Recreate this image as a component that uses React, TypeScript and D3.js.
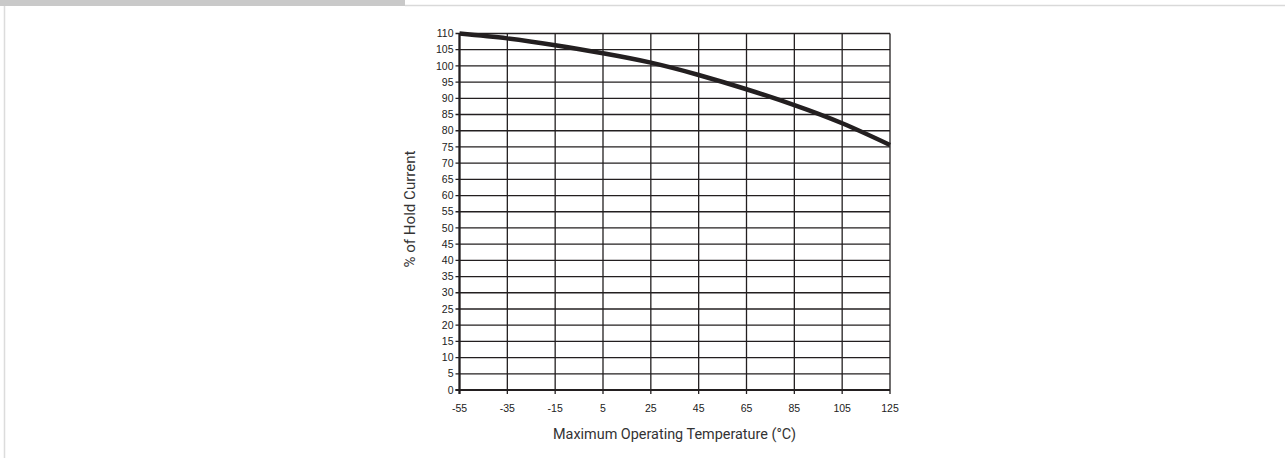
import React from 'react';
import * as d3 from 'd3';

// derating curve
const temps = [-55, -35, -15, 5, 25, 45, 65, 85, 105, 125];
const holdPct = [110, 108.5, 106.4, 103.9, 101, 97.2, 92.8, 87.9, 82.3, 75.6];

const xTicks = [-55, -35, -15, 5, 25, 45, 65, 85, 105, 125];
const yTicks = d3.range(0, 111, 5);

const xTitle = 'Maximum Operating Temperature (\u00B0C)';
const yTitle = '% of Hold Current';

const W = 1285;
const H = 458;
const plot = { left: 459.5, right: 890, top: 33.5, bottom: 390 };

const titleFont = "Roboto, 'Liberation Sans', sans-serif";
const sans = "'Liberation Sans', Arial, sans-serif";

export default function App() {
  const x = d3.scaleLinear().domain([-55, 125]).range([plot.left, plot.right]);
  const y = d3.scaleLinear().domain([0, 110]).range([plot.bottom, plot.top]);

  const points: [number, number][] = temps.map((t, i) => [t, holdPct[i]]);
  const line = d3.line<[number, number]>()
    .x(d => x(d[0]))
    .y(d => y(d[1]))
    .curve(d3.curveNatural);

  const ink = '#231f20';

  return (
    <div style={{ position: 'absolute', left: 0, top: 0 }}>
      <svg width={W} height={H} style={{ display: 'block', background: '#fff' }}>
        {/* page frame */}
        <rect x={0} y={0} width={405} height={6} fill="#c9c9c9" />
        <line x1={405} x2={W} y1={5.5} y2={5.5} stroke="#d9d9d9" strokeWidth={1.5} />
        <line x1={4.5} x2={4.5} y1={6} y2={H} stroke="#dcdcdc" strokeWidth={1.5} />

        {/* horizontal grid */}
        {yTicks.map(v => (
          <line key={'h' + v} x1={plot.left - 4} x2={plot.right} y1={y(v)} y2={y(v)}
            stroke={ink} strokeWidth={1.3} />
        ))}
        {/* vertical grid */}
        {xTicks.map(v => (
          <line key={'v' + v} x1={x(v)} x2={x(v)} y1={plot.top} y2={plot.bottom + 4}
            stroke={ink} strokeWidth={1.3} />
        ))}
        {/* axes frame */}
        <line x1={plot.left} x2={plot.left} y1={plot.top} y2={plot.bottom + 4} stroke={ink} strokeWidth={2.2} />
        <line x1={plot.left - 4} x2={plot.right} y1={plot.bottom} y2={plot.bottom} stroke={ink} strokeWidth={2.2} />

        {/* curve */}
        <path d={line(points) || ''} fill="none" stroke={ink} strokeWidth={4.5} strokeLinecap="butt" />

        {/* y tick labels */}
        {yTicks.map(v => (
          <text key={'yl' + v} x={plot.left - 6} y={y(v) + 3.7} textAnchor="end"
            fontFamily={sans} fontSize={10.5} fill="#222">{v}</text>
        ))}
        {/* x tick labels */}
        {xTicks.map(v => (
          <text key={'xl' + v} x={x(v)} y={412} textAnchor="middle"
            fontFamily={sans} fontSize={10.5} fill="#222">{v}</text>
        ))}

        <text x={674.5} y={439} textAnchor="middle" fontFamily={titleFont} fontSize={15.5} fill="#333"
          textLength={243} lengthAdjust="spacingAndGlyphs">{xTitle}</text>
        <text transform="translate(415,209) rotate(-90)" textAnchor="middle" fontFamily={titleFont} fontSize={15.5} fill="#333"
          textLength={117} lengthAdjust="spacingAndGlyphs">{yTitle}</text>
      </svg>
    </div>
  );
}
